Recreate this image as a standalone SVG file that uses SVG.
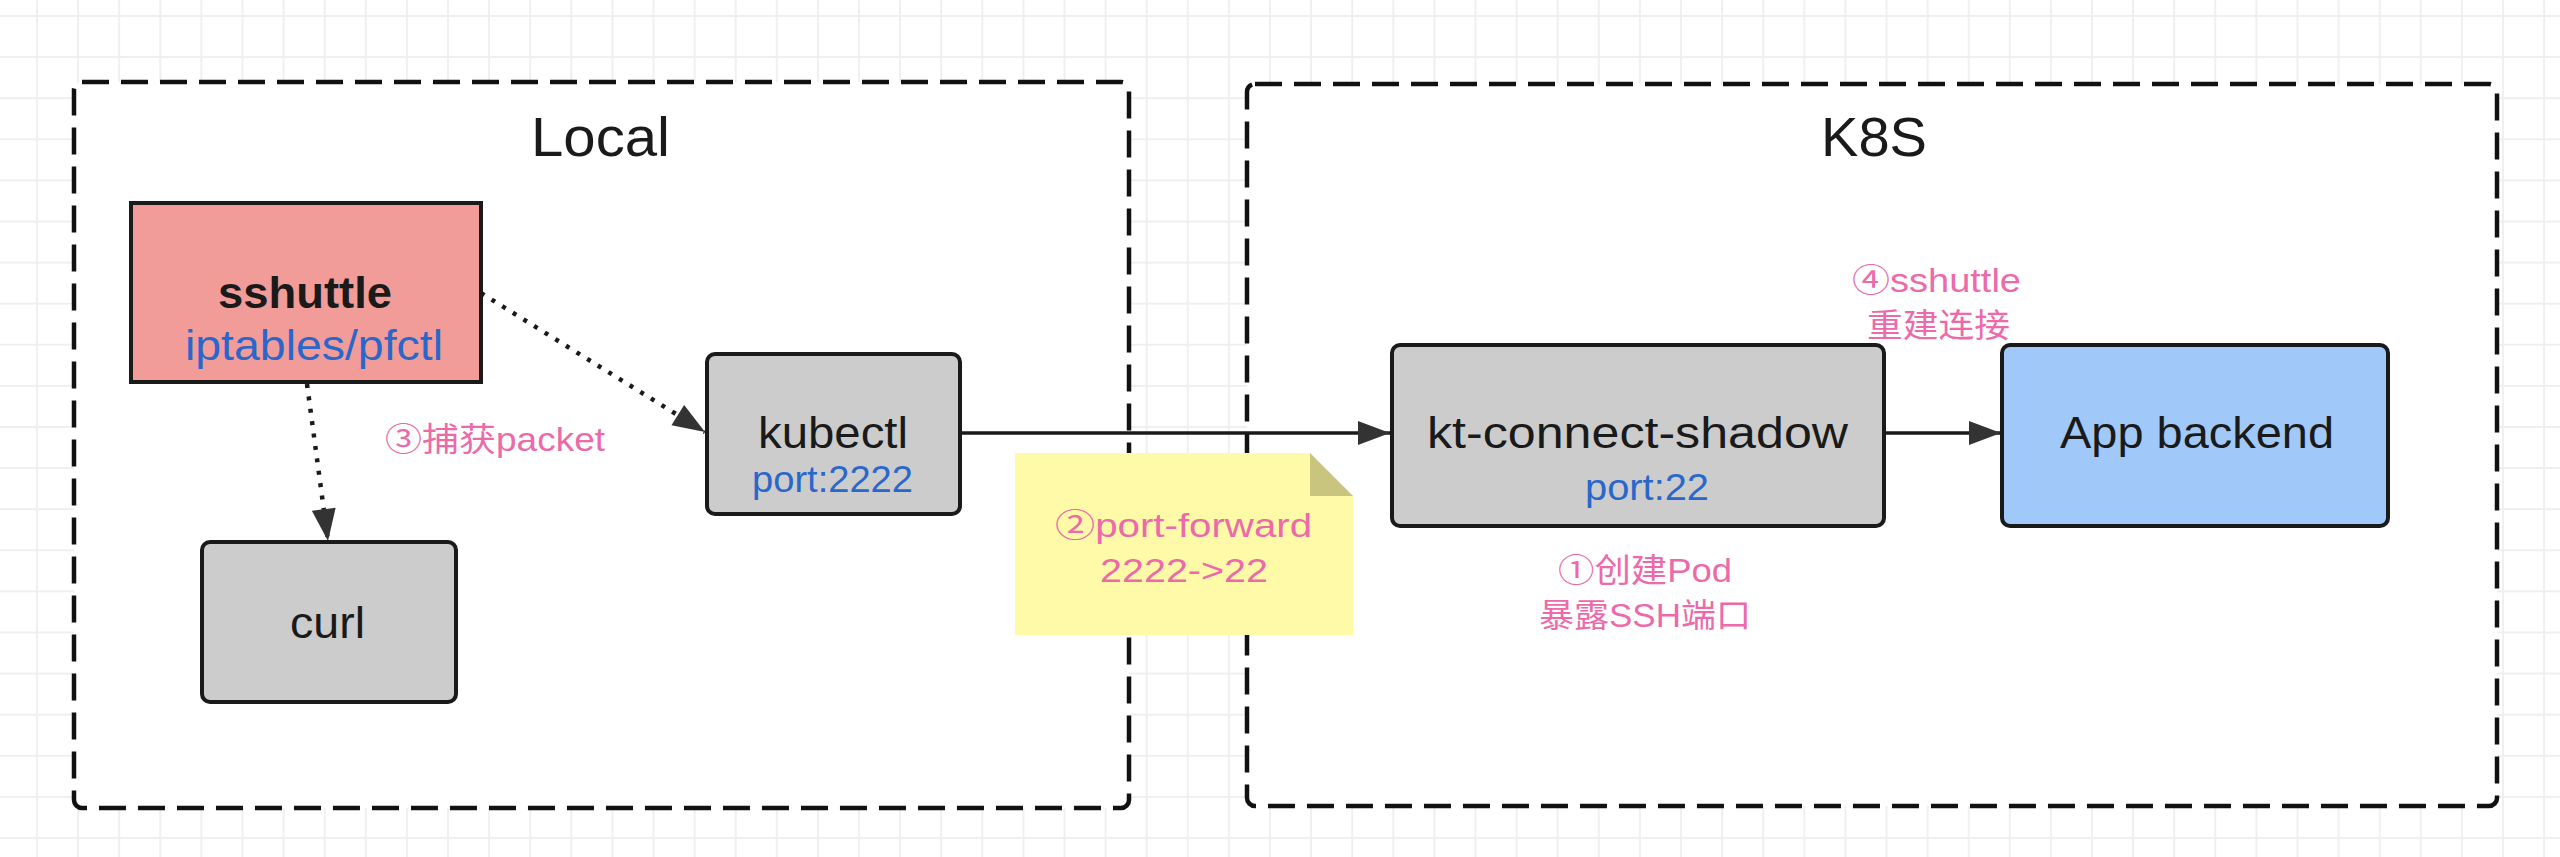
<svg xmlns="http://www.w3.org/2000/svg" width="2560" height="857" viewBox="0 0 2560 857">
  <defs>
    <pattern id="grid" patternUnits="userSpaceOnUse" x="36" y="15" width="41.1" height="41.1">
      <path d="M1 0V41.1M0 1H41.1" fill="none" stroke="#efefef" stroke-width="1.8"/>
    </pattern>
    <marker id="arrow" markerUnits="userSpaceOnUse" markerWidth="34" markerHeight="26" refX="33" refY="13" orient="auto">
      <path d="M1,1 L33,13 L1,25 Z" fill="#333333"/>
    </marker>
    <style>
      .container { fill: #ffffff; stroke: #111111; stroke-width: 4.5; stroke-dasharray: 27 12; }
      .box { stroke: #1a1a1a; stroke-width: 4; }
      .gray { fill: #cccccc; }
      .title { font-family: "Liberation Sans", Arial, sans-serif; font-size: 56px; fill: #1a1a1a; }
      .label { font-family: "Liberation Sans", Arial, sans-serif; font-size: 44px; fill: #1a1a1a; }
      .blue { font-family: "Liberation Sans", Arial, sans-serif; fill: #2a67cb; }
      .pink { font-family: "Liberation Sans", "Noto Sans CJK SC", sans-serif; font-size: 33px; fill: #ec6aa9; }
      .solid { fill: none; stroke: #1a1a1a; stroke-width: 3.5; }
      .dotted { fill: none; stroke: #1a1a1a; stroke-width: 4.5; stroke-dasharray: 4 8.5; }
    </style>
  </defs>

  <rect x="0" y="0" width="2560" height="857" fill="#ffffff"/>
  <rect x="0" y="0" width="2560" height="857" fill="url(#grid)"/>

  <g id="local-container">
    <rect class="container" x="74" y="82" width="1055" height="726" rx="8"/>
    <text class="title" x="531" y="156" textLength="139" lengthAdjust="spacingAndGlyphs">Local</text>
  </g>
  <g id="k8s-container">
    <rect class="container" x="1247" y="84" width="1250" height="722" rx="8"/>
    <text class="title" x="1821" y="156" textLength="106" lengthAdjust="spacingAndGlyphs">K8S</text>
  </g>

  <g id="connectors">
    <line class="dotted" x1="481" y1="293" x2="705" y2="432" marker-end="url(#arrow)"/>
    <line class="dotted" x1="307" y1="384" x2="328" y2="541" marker-end="url(#arrow)"/>
    <line class="solid" x1="960" y1="433" x2="1390" y2="433" marker-end="url(#arrow)"/>
    <line class="solid" x1="1884" y1="433" x2="2001" y2="433" marker-end="url(#arrow)"/>
  </g>

  <g id="sshuttle">
    <rect class="box" x="131" y="203" width="350" height="179" fill="#f19c99"/>
    <text class="label" x="218" y="308" font-weight="bold" textLength="174" lengthAdjust="spacingAndGlyphs">sshuttle</text>
    <text class="blue" x="185" y="360" font-size="42" textLength="258" lengthAdjust="spacingAndGlyphs">iptables/pfctl</text>
  </g>

  <g id="curl">
    <rect class="box gray" x="202" y="542" width="254" height="160" rx="8"/>
    <text class="label" x="290" y="638" textLength="75" lengthAdjust="spacingAndGlyphs">curl</text>
  </g>

  <g id="kubectl">
    <rect class="box gray" x="707" y="354" width="253" height="160" rx="8"/>
    <text class="label" x="758" y="448" textLength="150" lengthAdjust="spacingAndGlyphs">kubectl</text>
    <text class="blue" x="752" y="492" font-size="36" textLength="161" lengthAdjust="spacingAndGlyphs">port:2222</text>
  </g>

  <g id="kt-connect-shadow">
    <rect class="box gray" x="1392" y="345" width="492" height="181" rx="8"/>
    <text class="label" x="1427" y="448" textLength="421" lengthAdjust="spacingAndGlyphs">kt-connect-shadow</text>
    <text class="blue" x="1585" y="500" font-size="36" textLength="124" lengthAdjust="spacingAndGlyphs">port:22</text>
  </g>

  <g id="app-backend">
    <rect class="box" x="2002" y="345" width="386" height="181" rx="8" fill="#a0c8f8"/>
    <text class="label" x="2060" y="448" textLength="274" lengthAdjust="spacingAndGlyphs">App backend</text>
  </g>

  <g id="note-port-forward">
    <path d="M1015 453 H1310 L1353 496 V635 H1015 Z" fill="#fffaa8"/>
    <path d="M1310 453 V496 H1353 Z" fill="#c9c57e"/>
    <text class="pink" x="1055" y="537" textLength="257" lengthAdjust="spacingAndGlyphs">②port-forward</text>
    <text class="pink" x="1100" y="582" textLength="168" lengthAdjust="spacingAndGlyphs">2222-&gt;22</text>
  </g>

  <g id="label-capture">
    <text class="pink" x="385" y="451" textLength="220" lengthAdjust="spacingAndGlyphs">③捕获packet</text>
  </g>
  <g id="label-reconnect">
    <text class="pink" x="1852" y="292" textLength="169" lengthAdjust="spacingAndGlyphs">④sshuttle</text>
    <text class="pink" x="1867" y="337" textLength="143" lengthAdjust="spacingAndGlyphs">重建连接</text>
  </g>
  <g id="label-create-pod">
    <text class="pink" x="1558" y="582" textLength="174" lengthAdjust="spacingAndGlyphs">①创建Pod</text>
    <text class="pink" x="1539" y="627" textLength="212" lengthAdjust="spacingAndGlyphs">暴露SSH端口</text>
  </g>
</svg>
